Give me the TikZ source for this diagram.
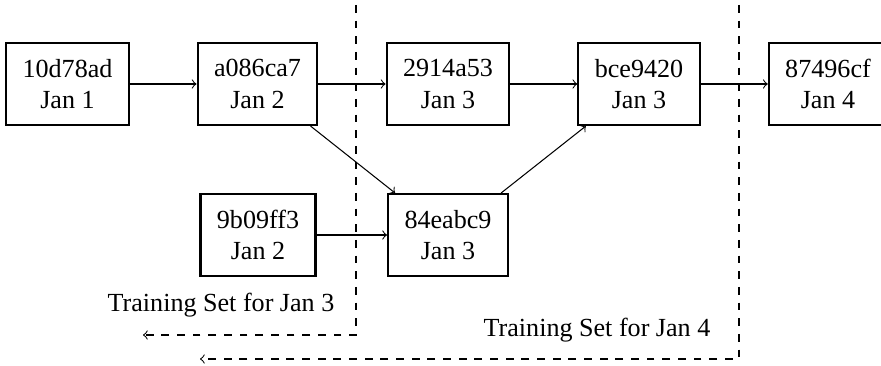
\documentclass[tikz,border=0pt]{standalone}
\usepackage{fontspec}
\setmainfont{Liberation Serif}
\begin{document}
\begin{tikzpicture}[x=0.3831pt,y=-0.3831pt,
  commit/.style={draw, thick, align=center, inner xsep=6.3pt, minimum height=31.4pt, font=\fontsize{10}{12}\selectfont},
  link/.style={->, thin},
  span/.style={->, thin, dashed},
  lbl/.style={anchor=base, inner sep=0pt, font=\fontsize{10}{12}\selectfont}]
\useasboundingbox (0,0) rectangle (881,366);
\node[commit] (c1) at (67.5,84) {10d78ad\\Jan 1};
\node[commit] (c2) at (257.5,84) {a086ca7\\Jan 2};
\node[commit] (c3) at (448,84) {2914a53\\Jan 3};
\node[commit] (c4) at (639,84) {bce9420\\Jan 3};
\node[commit] (c5) at (828,84) {87496cf\\Jan 4};
\node[commit] (c6) at (258,235) {9b09ff3\\Jan 2};
\node[commit] (c7) at (448,235) {84eabc9\\Jan 3};
\draw[link] (c1) -- (c2);
\draw[link] (c2) -- (c3);
\draw[link] (c3) -- (c4);
\draw[link] (c4) -- (c5);
\draw[link] (c2) -- (c7);
\draw[link] (c6) -- (c7);
\draw[link] (c7) -- (c4);
\node[lbl] (t3) at (221,311) {Training Set for Jan 3};
\node[lbl] (t4) at (597,336.5) {Training Set for Jan 4};
\coordinate (a0) at (356,5);
\coordinate (a1) at (356,335);
\coordinate (a2) at (143,335);
\coordinate (b0) at (739,5);
\coordinate (b1) at (739,359);
\coordinate (b2) at (200,359);
\draw[span] (a0) -- (a1) -- (a2);
\draw[span] (b0) -- (b1) -- (b2);
\end{tikzpicture}
\end{document}
